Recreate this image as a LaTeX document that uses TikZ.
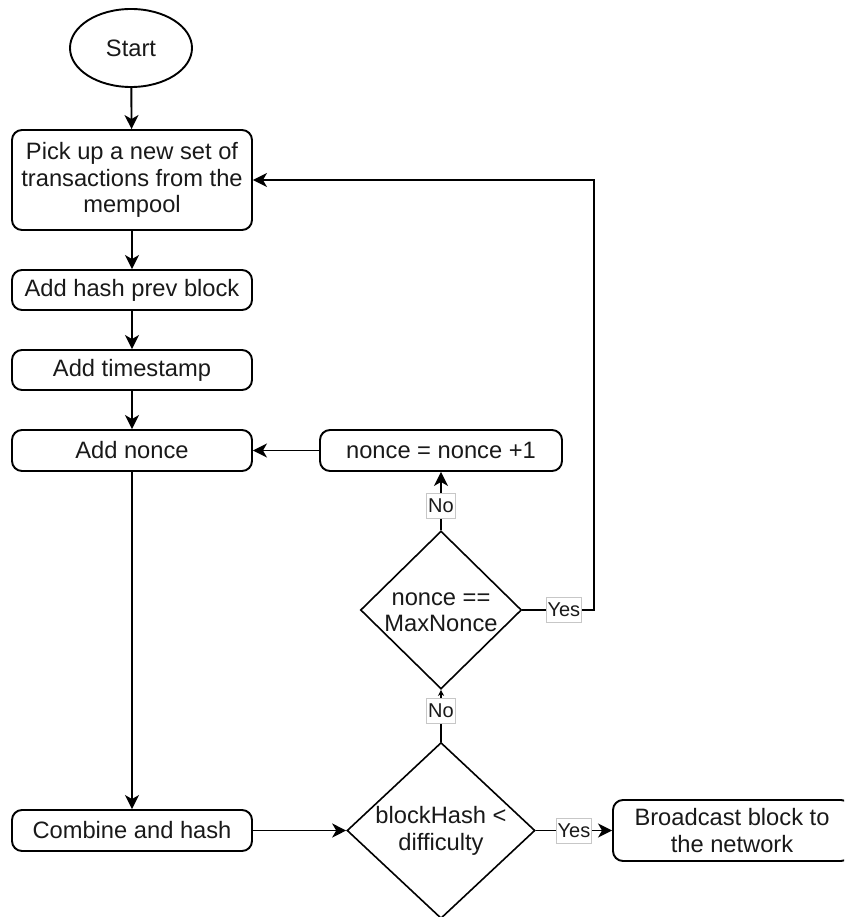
\documentclass[tikz,border=0pt]{standalone}
\usepackage{fontspec}
\setmainfont{Liberation Sans}
\usetikzlibrary{shapes.geometric,arrows.meta}

\tikzset{
  every node/.style={font=\fontsize{23.7}{26.5}\selectfont, text=black!90},
  stepbox/.style={draw, line width=1.9pt, rounded corners=10pt, minimum width=240pt, align=center, inner sep=0pt},
  terminal/.style={draw, line width=1.9pt, ellipse, minimum width=122pt, minimum height=78pt, inner sep=0pt},
  decision/.style={draw, line width=1.6pt, diamond, inner sep=0pt},
  flow/.style={line width=1.9pt, -{Stealth[length=14pt,width=14pt,inset=4pt]}},
  tinyflow/.style={line width=1.9pt, -{Stealth[length=6pt,width=6pt,inset=1.5pt]}},
  lbl/.style={fill=white, draw=black!22, line width=0.8pt, inner sep=1.5pt, minimum height=25pt,
              font=\fontsize{20}{22}\selectfont}
}

\begin{document}
\begin{tikzpicture}[x=1pt, y=-1pt]
  \useasboundingbox (0,0) rectangle (844,917);
  \clip (0,0) rectangle (844,917);

  % process column
  \node[terminal] (start) at (131,48) {Start};
  \node[stepbox, minimum height=100pt] (pick) at (132,180)
    {Pick up a new set of\\transactions from the\\mempool};
  \node[stepbox, minimum height=40pt] (hashb) at (132,290) {Add hash prev block};
  \node[stepbox, minimum height=40pt] (ts) at (132,370) {Add timestamp};
  \node[stepbox, minimum height=41pt] (addn) at (132,450.5) {Add nonce};
  \node[stepbox, minimum height=41pt] (comb) at (132,830.5) {Combine and hash};

  % nonce loop
  \node[stepbox, minimum width=242pt, minimum height=41pt] (inc) at (441,450.5) {nonce = nonce +1};
  \node[decision, minimum width=161pt, minimum height=158pt] (maxq) at (441,610) {};
  \node[align=center] (maxqtext) at (441,612) {nonce ==\\MaxNonce};

  % difficulty test
  \node[decision, minimum width=188pt, minimum height=176pt] (diff) at (441,830.5) {};
  \node[align=center] (difftext) at (441,831) {blockHash <\\difficulty};
  \node[stepbox, minimum width=238pt, minimum height=61pt] (bc) at (732,830.5)
    {Broadcast block to\\the network};

  \coordinate (loopcorner) at (594,610);

  % connectors
  \draw[flow] (start) -- (pick);
  \draw[flow] (pick) -- (hashb);
  \draw[flow] (hashb) -- (ts);
  \draw[flow] (ts) -- (addn);
  \draw[flow] (addn) -- (comb);
  \draw[flow] (comb) -- (diff.west);
  \draw[tinyflow] (diff.north) -- node[lbl, pos=0.6] {No} (maxq.south);
  \draw[flow] (maxq.north) -- node[lbl, pos=0.42] {No} (inc.south);
  \draw[flow] (inc) -- (addn);
  \draw[flow] (maxq.east) -- node[lbl, pos=0.58] {Yes} (loopcorner) |- (pick.east);
  \draw[flow] (diff.east) -- node[lbl, pos=0.5] {Yes} (bc.west);
\end{tikzpicture}
\end{document}
